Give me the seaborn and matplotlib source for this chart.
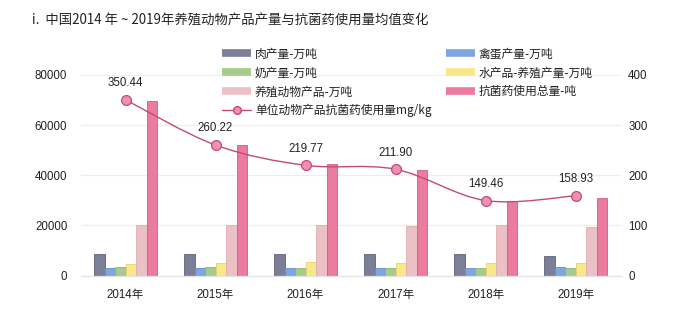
import numpy as np
import pandas as pd
import matplotlib
matplotlib.use("Agg")
import matplotlib.pyplot as plt
import seaborn as sns
from matplotlib.path import Path
from matplotlib.patches import PathPatch
from matplotlib.lines import Line2D

# ---------------- data ----------------
years = ["2014年", "2015年", "2016年", "2017年", "2018年", "2019年"]
meat = [8700, 8700, 8650, 8650, 8650, 7760]          # 肉产量-万吨
eggs = [2900, 3000, 3100, 3050, 3100, 3300]          # 禽蛋产量-万吨
milk = [3300, 3300, 3150, 3000, 3000, 3150]          # 奶产量-万吨
aqua = [4700, 5150, 5200, 4800, 5000, 5000]          # 水产品-养殖产量-万吨
total = [20000, 20250, 20250, 19900, 20000, 19400]   # 养殖动物产品-万吨
antibiotic = [69500, 52000, 44300, 41900, 29600, 31000]  # 抗菌药使用总量-吨
unit_use = [350.44, 260.22, 219.77, 211.90, 149.46, 158.93]  # 单位动物产品抗菌药使用量mg/kg
unit_labels = ["350.44", "260.22", "219.77", "211.90", "149.46", "158.93"]

series_names = ["肉产量-万吨", "禽蛋产量-万吨", "奶产量-万吨", "水产品-养殖产量-万吨",
                "养殖动物产品-万吨", "抗菌药使用总量-吨"]
line_name = "单位动物产品抗菌药使用量mg/kg"
title = "i.  中国2014 年 ~ 2019年养殖动物产品产量与抗菌药使用量均值变化"

left_ticks = [0, 20000, 40000, 60000, 80000]
right_ticks = [0, 100, 200, 300, 400]

# ---------------- style ----------------
sns.set_style("white")
plt.rcParams["font.family"] = ["Liberation Sans", "Noto Sans CJK SC", "DejaVu Sans"]
plt.rcParams["axes.unicode_minus"] = False

colors = ["#7b7f97", "#7ea6e0", "#a6cc8c", "#f8e88a", "#ecc1c5", "#ec7c9f"]
edges = ["#5f6379", "#6a90c8", "#8db373", "#e6d270", "#dcaeb2", "#cf5d82"]
line_color = "#c24a7b"
marker_face = "#f08fb1"

df = pd.DataFrame({
    "year": np.repeat(years, len(series_names)),
    "series": series_names * len(years),
    "value": np.array([meat, eggs, milk, aqua, total, antibiotic]).T.ravel(),
})

fig = plt.figure(figsize=(6.83, 3.23), dpi=100)
ax = fig.add_axes([0.1179, 0.147, 0.7906, 0.621])

sns.barplot(data=df, x="year", y="value", hue="series", order=years,
            hue_order=series_names, palette=dict(zip(series_names, colors)),
            saturation=1, width=0.70, legend=False, ax=ax, linewidth=0.6)
for cont, ec in zip(ax.containers, edges):
    for p in cont:
        p.set_edgecolor(ec)

ax.set_xlim(-0.5, len(years) - 0.5)
ax.set_ylim(0, 80000)
ax.set_yticks(left_ticks)
ax.set_yticklabels([str(t) for t in left_ticks])
ax.set_xlabel("")
ax.set_ylabel("")
ax.yaxis.grid(True, color="#eeeeee", linewidth=0.9)
ax.set_axisbelow(True)
for s in ["top", "right", "left"]:
    ax.spines[s].set_visible(False)
ax.spines["bottom"].set_color("#e3e3e3")
ax.spines["bottom"].set_linewidth(0.9)
ax.tick_params(axis="y", length=0, pad=9.5, labelsize=8.3, labelcolor="#222222")
ax.tick_params(axis="x", length=0, pad=10, labelsize=8.3, labelcolor="#222222")
ax.set_xticks(np.arange(-0.5, len(years) + 0.5, 1.0), minor=True)
ax.tick_params(axis="x", which="minor", length=3, color="#d8d8d8", width=0.8)

# secondary axis with the smooth line
ax2 = ax.twinx()
ax2.set_ylim(0, 400)
ax2.set_yticks(right_ticks)
ax2.set_yticklabels([str(t) for t in right_ticks])
for s in ["top", "right", "left", "bottom"]:
    ax2.spines[s].set_visible(False)
ax2.tick_params(axis="y", length=0, pad=5.5, labelsize=8.3, labelcolor="#222222")

xs = np.arange(len(years), dtype=float)
ys = np.array(unit_use, dtype=float)
# Catmull-Rom style cubic Bezier through the data points
px = np.concatenate([[xs[0]], xs, [xs[-1]]])
py = np.concatenate([[ys[0]], ys, [ys[-1]]])
verts = [(xs[0], ys[0])]
codes = [Path.MOVETO]
for i in range(len(xs) - 1):
    j = i + 1
    c1 = (px[j] + (px[j + 1] - px[j - 1]) / 6.0, py[j] + (py[j + 1] - py[j - 1]) / 6.0)
    c2 = (px[j + 1] - (px[j + 2] - px[j]) / 6.0, py[j + 1] - (py[j + 2] - py[j]) / 6.0)
    verts += [c1, c2, (xs[i + 1], ys[i + 1])]
    codes += [Path.CURVE4, Path.CURVE4, Path.CURVE4]
ax2.add_patch(PathPatch(Path(verts, codes), facecolor="none",
                        edgecolor=line_color, linewidth=1.0, zorder=3))
sns.scatterplot(x=xs, y=ys, ax=ax2, s=50, color=marker_face,
                edgecolor=line_color, linewidth=0.9, zorder=4, legend=False)
for x, y, lab in zip(xs, ys, unit_labels):
    ax2.annotate(lab, (x, y), xytext=(0, 12), textcoords="offset points",
                 ha="center", va="center", fontsize=8.3, color="#222222")

# legend
handles = []
for c in colors:
    handles.append(Line2D([], [], color=c, linewidth=5.5, solid_capstyle="butt"))
line_handle = Line2D([], [], color=line_color, linewidth=1.0, marker="o",
                     markersize=5.5, markerfacecolor=marker_face,
                     markeredgecolor=line_color)
order_h = [handles[0], handles[2], handles[4], line_handle,
           handles[1], handles[3], handles[5]]
order_l = [series_names[0], series_names[2], series_names[4], line_name,
           series_names[1], series_names[3], series_names[5]]
leg = fig.legend(order_h, order_l, ncol=2, loc="upper left",
                 bbox_to_anchor=(0.325, 0.853), frameon=False,
                 handlelength=2.5, handletextpad=0.3,
                 labelspacing=0.5, columnspacing=1.2, borderpad=0,
                 borderaxespad=0, prop={"family": ["Noto Sans CJK SC", "DejaVu Sans"], "size": 8.5})
for t in leg.get_texts():
    t.set_color("#222222")

fig.text(0.047, 0.935, title, ha="left", va="center", fontsize=9.6,
         family=["Noto Sans CJK SC", "DejaVu Sans"], color="#222222")

fig.savefig("out.png", dpi=100)
